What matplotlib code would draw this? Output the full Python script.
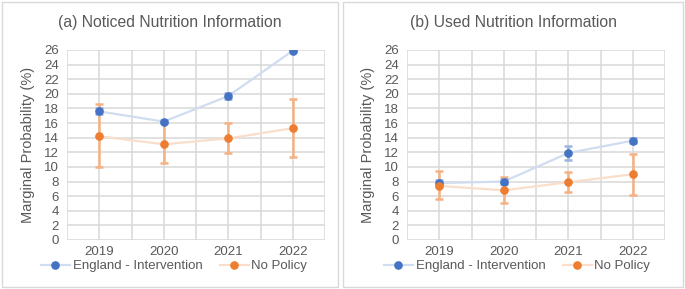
import matplotlib.pyplot as plt
from matplotlib.lines import Line2D
from matplotlib.patches import Rectangle
import numpy as np

plt.rcParams['font.family'] = ['Liberation Sans', 'DejaVu Sans']

years = ['2019', '2020', '2021', '2022']

# (a) Noticed Nutrition Information
eng_a = [17.6, 16.2, 19.7, 25.9]
eng_a_lo = [17.2, 16.0, 19.3, 25.8]
eng_a_hi = [18.1, 16.4, 20.1, 26.0]
nop_a = [14.2, 13.1, 13.9, 15.3]
nop_a_lo = [10.0, 10.5, 11.9, 11.3]
nop_a_hi = [18.6, 16.2, 16.0, 19.3]

# (b) Used Nutrition Information
eng_b = [7.8, 8.0, 11.9, 13.6]
eng_b_lo = [7.4, 7.7, 11.0, 13.3]
eng_b_hi = [8.2, 8.3, 12.9, 13.9]
nop_b = [7.4, 6.8, 7.9, 9.0]
nop_b_lo = [5.6, 5.0, 6.6, 6.2]
nop_b_hi = [9.4, 8.6, 9.3, 11.8]

titles = ['(a) Noticed Nutrition Information', '(b) Used Nutrition Information']

blue = '#4472C4'
orange = '#ED7D31'
blue_line = '#D0DCF0'
orange_line = '#FADECB'
blue_err = '#9DB5E0'
orange_err = '#F4B183'
grid_c = '#D9D9D9'
text_c = '#595959'

W, H = 685, 289
fig = plt.figure(figsize=(W / 100, H / 100), dpi=100)

panels = [(2, 338), (343, 683)]
axes_x = [67, 407]
data = [
    (eng_a, eng_a_lo, eng_a_hi, nop_a, nop_a_lo, nop_a_hi),
    (eng_b, eng_b_lo, eng_b_hi, nop_b, nop_b_lo, nop_b_hi),
]

for i in range(2):
    px0, px1 = panels[i]
    fig.patches.append(Rectangle((px0 / W, 2 / H), (px1 - px0) / W, (H - 4) / H,
                                 transform=fig.transFigure, fill=False,
                                 edgecolor=grid_c, lw=1.0))
    ax = fig.add_axes([axes_x[i] / W, 1 - 240 / H, 258 / W, 190 / H])
    e, elo, ehi, n, nlo, nhi = data[i]
    x = np.arange(len(years))
    e = np.array(e); n = np.array(n)
    ax.plot(x, e, color=blue_line, lw=1.6, zorder=3)
    ax.plot(x, n, color=orange_line, lw=1.6, zorder=3)
    ax.errorbar(x, n, yerr=[n - np.array(nlo), np.array(nhi) - n], fmt='none',
                ecolor=orange_err, elinewidth=1.8, capsize=2.8, capthick=1.8, zorder=4)
    ax.errorbar(x, e, yerr=[e - np.array(elo), np.array(ehi) - e], fmt='none',
                ecolor=blue_err, elinewidth=1.8, capsize=2.8, capthick=1.8, zorder=4)
    ax.plot(x, e, 'o', color=blue, ms=5.2, zorder=5)
    ax.plot(x, n, 'o', color=orange, ms=5.2, zorder=5)

    ax.set_xlim(-0.5, 3.5)
    ax.set_ylim(0, 26)
    ax.set_yticks(range(0, 27, 2))
    ax.set_xticks(x)
    ax.set_xticklabels(years)
    ax.set_xticks(np.arange(-0.5, 3.6, 1.0), minor=True)
    ax.grid(True, which='both', axis='x', color=grid_c, lw=1.1)
    ax.grid(True, which='major', axis='y', color=grid_c, lw=1.1)
    ax.set_axisbelow(True)
    for s in ax.spines.values():
        s.set_visible(False)
    ax.tick_params(which='both', length=0)
    ax.tick_params(axis='y', labelsize=9.5, labelcolor=text_c, pad=6)
    ax.tick_params(axis='x', labelsize=9.5, labelcolor=text_c, pad=4)
    ax.set_ylabel('Marginal Probability (%)', fontsize=10.5, color=text_c, labelpad=6)

    cx = (px0 + px1) / 2 / W
    fig.text(cx, 1 - 23 / H, titles[i], ha='center', va='center',
             fontsize=11.3, color=text_c)
    handles = [Line2D([], [], color=blue_line, lw=1.6, marker='o', mfc=blue, mec=blue, ms=5.2),
               Line2D([], [], color=orange_line, lw=1.6, marker='o', mfc=orange, mec=orange, ms=5.2)]
    fig.legend(handles, ['England - Intervention', 'No Policy'], loc='center',
               bbox_to_anchor=(cx + 4 / W, 1 - 266 / H), ncol=2, frameon=False,
               fontsize=9.5, labelcolor=text_c, handlelength=2.2,
               handletextpad=0.2, columnspacing=1.3)

fig.savefig('out.png', dpi=100)
